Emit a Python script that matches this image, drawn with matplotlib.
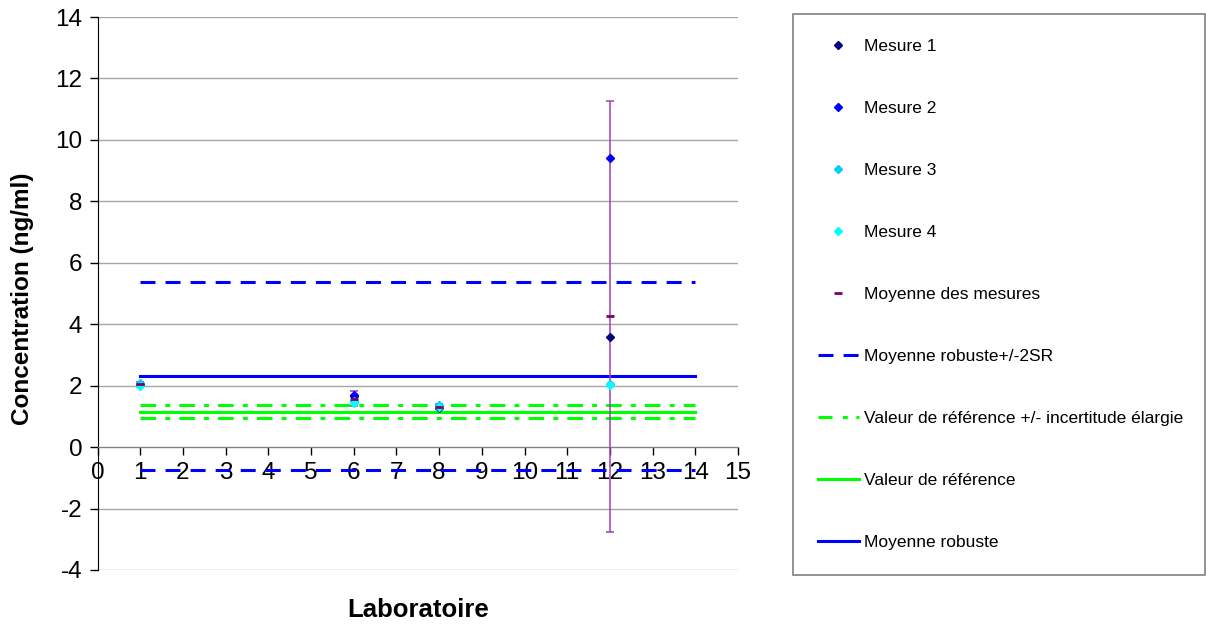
import matplotlib
matplotlib.use("Agg")
import matplotlib.pyplot as plt
from matplotlib.lines import Line2D

plt.rcParams['font.family'] = ['Liberation Sans', 'DejaVu Sans']
plt.rcParams['axes.unicode_minus'] = False

# Laboratories and their individual measurements (ng/ml)
labs = [1, 6, 8, 12]
mesure1 = [2.02, 1.66, 1.28, 3.58]
mesure2 = [2.05, 1.70, 1.33, 9.40]
mesure3 = [2.08, 1.50, 1.36, 2.04]
mesure4 = [2.00, 1.45, 1.30, 2.02]
moyenne = [2.04, 1.58, 1.32, 4.26]
incertitude = [0.07, 0.24, 0.07, 7.02]

# Reference levels
x_span = [1, 14]
moyenne_robuste = 2.31
robuste_haut = 5.37
robuste_bas = -0.75
valeur_ref = 1.14
ref_haut = 1.37
ref_bas = 0.94

x_ticks = list(range(0, 16))
y_ticks = list(range(-4, 15, 2))

c_m1 = '#000080'
c_m2 = '#0000FF'
c_m3 = '#00CCFF'
c_m4 = '#00FFFF'
c_moy = '#800060'
c_err = '#A040B0'
c_blue = '#0000FF'
c_green = '#00FF00'
lw_ref = 2.2
dash_blue = (0, (4.9, 3.3))
dash_green = (0, (5.1, 3.0, 1.6, 3.0))
dash_green_key = (0, (4.6, 3.4, 1.6, 2.8, 1.6, 3.0))

fig = plt.figure(figsize=(12.06, 6.29), dpi=100)
ax = fig.add_axes([97.6 / 1206, 1 - 570 / 629, (738 - 97.6) / 1206, (570 - 17) / 629])

ax.set_xlim(0, 15)
ax.set_ylim(-4, 14)
ax.set_yticks(y_ticks)
ax.set_xticks(x_ticks)
ax.yaxis.grid(True, color='#A6A6A6', lw=1)
ax.set_axisbelow(True)

ax.spines['top'].set_visible(False)
ax.spines['right'].set_visible(False)
ax.spines['bottom'].set_position(('data', 0))
ax.spines['bottom'].set_color('#808080')
ax.spines['left'].set_color('black')
ax.tick_params(axis='both', direction='out', length=6, width=1, labelsize=17.5, colors='black')
ax.tick_params(axis='x', pad=5)
ax.tick_params(axis='y', pad=5)

# Error bars around the mean of each laboratory
ax.errorbar(labs, moyenne, yerr=incertitude, fmt='none', ecolor=c_err, elinewidth=1.1,
            capsize=3, capthick=1.1, zorder=3)

# Horizontal reference levels
ax.plot(x_span, [robuste_haut] * 2, color=c_blue, lw=lw_ref, ls=dash_blue, zorder=2)
ax.plot(x_span, [robuste_bas] * 2, color=c_blue, lw=lw_ref, ls=dash_blue, zorder=2)
ax.plot(x_span, [ref_haut] * 2, color=c_green, lw=lw_ref, ls=dash_green, zorder=2)
ax.plot(x_span, [ref_bas] * 2, color=c_green, lw=lw_ref, ls=dash_green, zorder=2)
ax.plot(x_span, [valeur_ref] * 2, color=c_green, lw=lw_ref, zorder=2)
ax.plot(x_span, [moyenne_robuste] * 2, color=c_blue, lw=lw_ref, zorder=2)

# Individual measurements and means
ax.plot(labs, mesure1, ls='none', marker='D', ms=4.2, color=c_m1, zorder=4)
ax.plot(labs, mesure2, ls='none', marker='D', ms=4.2, color=c_m2, zorder=4)
ax.plot(labs, mesure3, ls='none', marker='D', ms=4.2, color=c_m3, zorder=4)
ax.plot(labs, mesure4, ls='none', marker='D', ms=4.2, color=c_m4, zorder=4)
ax.plot(labs, moyenne, ls='none', marker='_', ms=6, mew=2, color=c_moy, zorder=5)

ax.set_ylabel('Concentration (ng/ml)', fontsize=17.5, fontweight='bold')
ax.yaxis.set_label_coords((34 - 97.6) / 640.4, 0.49)
fig.text((97.6 + 738) / 2 / 1206, 1 - 610 / 629, 'Laboratoire', fontsize=18.5,
         fontweight='bold', ha='center', va='center')

handles = [
    Line2D([], [], ls='none', marker='D', ms=4.2, color=c_m1),
    Line2D([], [], ls='none', marker='D', ms=4.2, color=c_m2),
    Line2D([], [], ls='none', marker='D', ms=4.2, color=c_m3),
    Line2D([], [], ls='none', marker='D', ms=4.2, color=c_m4),
    Line2D([], [], ls='none', marker='_', ms=6, mew=2, color=c_moy),
    Line2D([], [], color=c_blue, lw=lw_ref, ls=dash_blue),
    Line2D([], [], color=c_green, lw=lw_ref, ls=dash_green_key),
    Line2D([], [], color=c_green, lw=lw_ref),
    Line2D([], [], color=c_blue, lw=lw_ref),
]
labels = ['Mesure 1', 'Mesure 2', 'Mesure 3', 'Mesure 4', 'Moyenne des mesures',
          'Moyenne robuste+/-2SR', 'Valeur de référence +/- incertitude élargie',
          'Valeur de référence', 'Moyenne robuste']

leg = fig.legend(handles, labels, loc='upper left',
                 bbox_to_anchor=(793 / 1206, 1 - 575 / 629, (1205 - 793) / 1206, 561 / 629),
                 mode='expand', borderaxespad=0, fontsize=12.5, labelspacing=2.7,
                 borderpad=1.42, handlelength=2.4, handletextpad=0.28,
                 fancybox=False, framealpha=1, edgecolor='#808080')
leg.get_frame().set_linewidth(1.2)

fig.savefig('out.png', dpi=100)
